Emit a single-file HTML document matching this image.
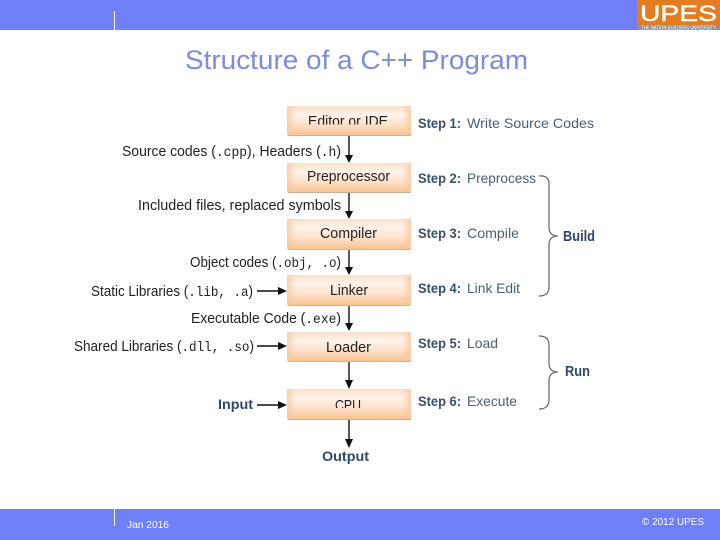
<!DOCTYPE html>
<html lang="en">
<head>
<meta charset="utf-8">
<title>Structure of a C++ Program</title>
<style>
html,body{margin:0;padding:0;background:#fff;width:720px;height:540px;overflow:hidden}
svg{display:block}
text{font-family:"Liberation Sans",sans-serif}
.m{font-family:"Liberation Mono",monospace;font-size:13.5px}
.k{font-size:14.5px;fill:#222}
.b{font-size:14.5px;fill:#222}
.s{font-size:14px;font-weight:bold;fill:#34516f}
.t{font-size:14px;fill:#466078}
.h{font-size:14px;font-weight:bold;fill:#2c4a6e}
.big{font-size:15px}
</style>
</head>
<body>
<svg xmlns="http://www.w3.org/2000/svg" width="720" height="540" viewBox="0 0 720 540">
<defs>
<linearGradient id="g" x1="0" y1="0" x2="0" y2="1">
<stop offset="0" stop-color="#fce0c8"/>
<stop offset=".3" stop-color="#fff3e9"/>
<stop offset=".6" stop-color="#fde3cf"/>
<stop offset="1" stop-color="#f9c492"/>
</linearGradient>
<linearGradient id="e" x1="0" y1="0" x2="1" y2="0">
<stop offset="0" stop-color="#f9c898" stop-opacity=".8"/>
<stop offset=".07" stop-color="#f9c898" stop-opacity="0"/>
<stop offset=".93" stop-color="#f9c898" stop-opacity="0"/>
<stop offset="1" stop-color="#f9c898" stop-opacity=".8"/>
</linearGradient>
<clipPath id="c1"><rect x="300" y="108" width="100" height="16.5"/></clipPath>
<clipPath id="c2"><rect x="320" y="399" width="60" height="9"/></clipPath>
</defs>

<rect x="0" y="0" width="720" height="30" fill="#6f7ff7"/>
<rect x="0" y="509" width="720" height="31" fill="#6f7ff7"/>
<rect x="114" y="11" width="1" height="19" fill="#f2f3ff"/>
<rect x="114" y="509" width="1" height="17" fill="#f2f3ff"/>

<rect x="637" y="0" width="83" height="25" fill="#e47d1f"/>
<rect x="637" y="25" width="83" height="5" fill="#8a8f9e"/>
<text x="640" y="21" font-size="22" fill="#fff" stroke="#fff" stroke-width=".4" textLength="77" lengthAdjust="spacingAndGlyphs">UPES</text>
<text x="641" y="29.5" font-size="5" fill="#fff" textLength="75" lengthAdjust="spacingAndGlyphs">THE NATION BUILDERS UNIVERSITY</text>

<text x="185" y="69" font-size="27" fill="#7b8cd8" textLength="343" lengthAdjust="spacingAndGlyphs">Structure of a C++ Program</text>

<text x="127" y="528" font-size="10.5" fill="#fff" textLength="42" lengthAdjust="spacingAndGlyphs">Jan 2016</text>
<text x="642" y="525" font-size="10.5" fill="#fff" textLength="62" lengthAdjust="spacingAndGlyphs">© 2012 UPES</text>

<g fill="#cdb09a">
<rect x="288" y="134" width="123" height="2"/>
<rect x="288" y="191" width="123" height="2"/>
<rect x="288" y="248" width="123" height="2"/>
<rect x="288" y="304" width="123" height="2"/>
<rect x="288" y="360" width="123" height="2"/>
<rect x="288" y="418" width="123" height="2"/>
</g>
<g fill="url(#g)">
<rect x="287" y="106" width="124" height="29"/>
<rect x="287" y="163" width="124" height="29"/>
<rect x="287" y="219" width="124" height="30"/>
<rect x="287" y="275" width="124" height="30"/>
<rect x="287" y="332" width="124" height="29"/>
<rect x="287" y="389" width="124" height="30"/>
</g>
<g fill="url(#e)">
<rect x="287" y="106" width="124" height="29"/>
<rect x="287" y="163" width="124" height="29"/>
<rect x="287" y="219" width="124" height="30"/>
<rect x="287" y="275" width="124" height="30"/>
<rect x="287" y="332" width="124" height="29"/>
<rect x="287" y="389" width="124" height="30"/>
</g>

<g clip-path="url(#c1)"><text class="b" x="308" y="126" textLength="80" lengthAdjust="spacingAndGlyphs">Editor or IDE</text></g>
<text class="b" x="307" y="181" textLength="83" lengthAdjust="spacingAndGlyphs">Preprocessor</text>
<text class="b" x="320" y="238" textLength="57" lengthAdjust="spacingAndGlyphs">Compiler</text>
<text class="b" x="330" y="295" textLength="38" lengthAdjust="spacingAndGlyphs">Linker</text>
<text class="b" x="326" y="352" textLength="45" lengthAdjust="spacingAndGlyphs">Loader</text>
<g clip-path="url(#c2)"><text class="b" x="335" y="410" textLength="26" lengthAdjust="spacingAndGlyphs">CPU</text></g>

<g stroke="#111" stroke-width="1.4" fill="none">
<path d="M349 136V156"/>
<path d="M349 193V213"/>
<path d="M349 250V269"/>
<path d="M349 306V325"/>
<path d="M349 362V382"/>
<path d="M349 420V440"/>
<path d="M257 291H279"/>
<path d="M257 346H279"/>
<path d="M257 405H279"/>
</g>
<g fill="#111">
<path d="M345 155h8l-4 8z"/>
<path d="M345 211h8l-4 8z"/>
<path d="M345 267h8l-4 8z"/>
<path d="M345 323h8l-4 8z"/>
<path d="M345 380h8l-4 9z"/>
<path d="M345 439h8l-4 9z"/>
<path d="M278 287v8l9-4z"/>
<path d="M278 342v8l9-4z"/>
<path d="M278 401v8l9-4z"/>
</g>

<text class="k" x="122" y="156" textLength="219" lengthAdjust="spacingAndGlyphs">Source codes (<tspan class="m">.cpp</tspan>), Headers (<tspan class="m">.h</tspan>)</text>
<text class="k" x="138" y="210" textLength="203" lengthAdjust="spacingAndGlyphs">Included files, replaced symbols</text>
<text class="k" x="190" y="267" textLength="151" lengthAdjust="spacingAndGlyphs">Object codes (<tspan class="m">.obj, .o</tspan>)</text>
<text class="k" x="91" y="296" textLength="162" lengthAdjust="spacingAndGlyphs">Static Libraries (<tspan class="m">.lib, .a</tspan>)</text>
<text class="k" x="191" y="323" textLength="150" lengthAdjust="spacingAndGlyphs">Executable Code (<tspan class="m">.exe</tspan>)</text>
<text class="k" x="74" y="351" textLength="180" lengthAdjust="spacingAndGlyphs">Shared Libraries (<tspan class="m">.dll, .so</tspan>)</text>
<text class="h" x="218" y="409" textLength="35" lengthAdjust="spacingAndGlyphs">Input</text>
<text class="h" x="322" y="461" textLength="47" lengthAdjust="spacingAndGlyphs">Output</text>

<text class="s" x="418" y="128" textLength="43" lengthAdjust="spacingAndGlyphs">Step 1:</text>
<text class="t" x="467" y="128" textLength="127" lengthAdjust="spacingAndGlyphs">Write Source Codes</text>
<text class="s" x="418" y="183" textLength="43" lengthAdjust="spacingAndGlyphs">Step 2:</text>
<text class="t" x="467" y="183" textLength="69" lengthAdjust="spacingAndGlyphs">Preprocess</text>
<text class="s" x="418" y="238" textLength="43" lengthAdjust="spacingAndGlyphs">Step 3:</text>
<text class="t" x="467" y="238" textLength="52" lengthAdjust="spacingAndGlyphs">Compile</text>
<text class="s" x="418" y="293" textLength="43" lengthAdjust="spacingAndGlyphs">Step 4:</text>
<text class="t" x="467" y="293" textLength="53" lengthAdjust="spacingAndGlyphs">Link Edit</text>
<text class="s" x="418" y="348" textLength="43" lengthAdjust="spacingAndGlyphs">Step 5:</text>
<text class="t" x="467" y="348" textLength="31" lengthAdjust="spacingAndGlyphs">Load</text>
<text class="s" x="418" y="406" textLength="43" lengthAdjust="spacingAndGlyphs">Step 6:</text>
<text class="t" x="467" y="406" textLength="50" lengthAdjust="spacingAndGlyphs">Execute</text>
<text class="h big" x="563" y="241" textLength="32" lengthAdjust="spacingAndGlyphs">Build</text>
<text class="h big" x="565" y="376" textLength="25" lengthAdjust="spacingAndGlyphs">Run</text>

<g stroke="#666" stroke-width="1.2" fill="none">
<path d="M539 176Q549 175 549 184V227Q549 236 558 236Q549 236 549 245V287Q549 296 539 296"/>
<path d="M539 336Q549 336 549 345V363Q549 372 558 372Q549 372 549 381V400Q549 409 539 409"/>
</g>
</svg>
</body>
</html>
